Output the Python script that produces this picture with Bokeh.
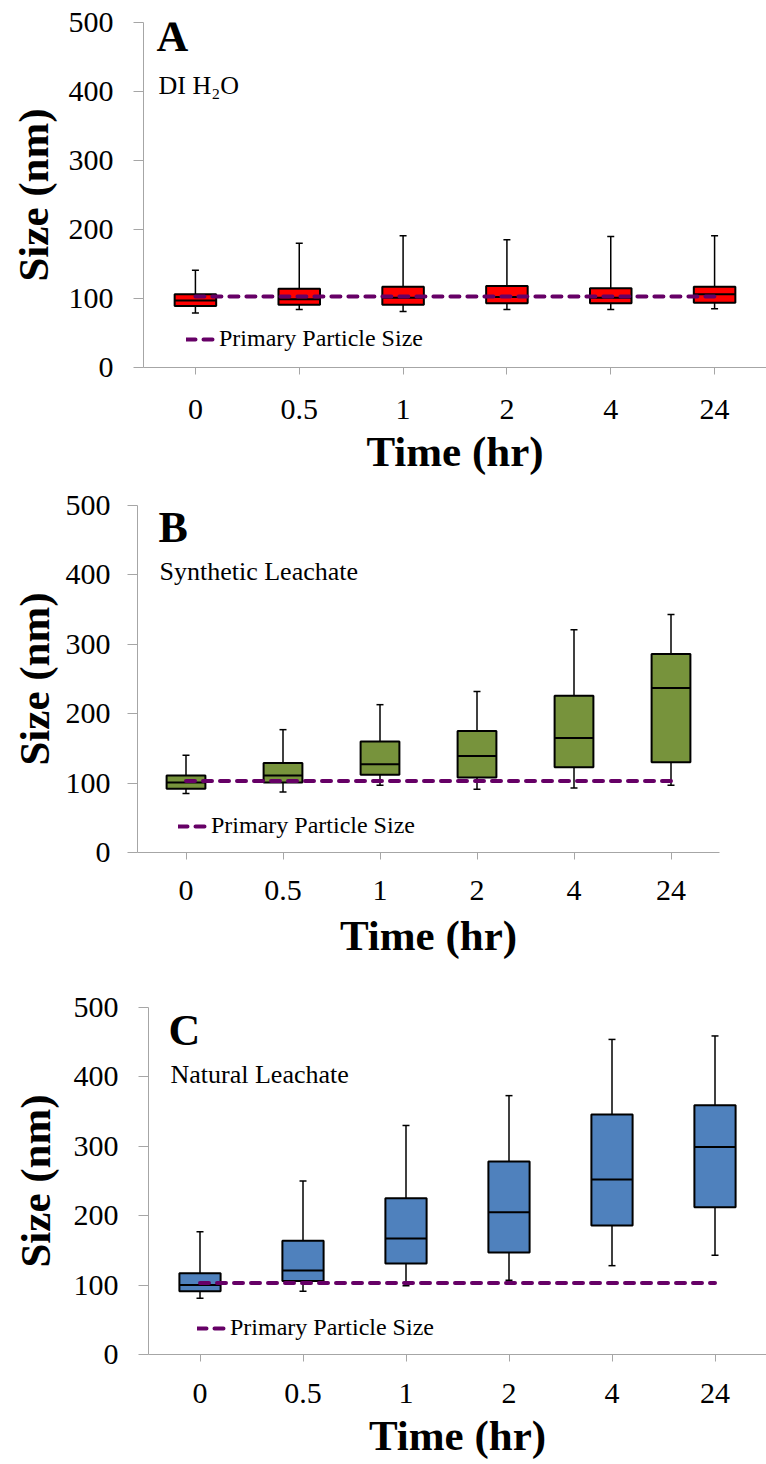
from bokeh.plotting import figure
from bokeh.models import (FactorRange, Range1d, Label, Legend, LegendItem,
                          ColumnDataSource, FixedTicker)
from bokeh.transform import dodge
from bokeh.embed import file_html
from bokeh.resources import INLINE

# ---------------- data ----------------
times = ["0", "0.5", "1", "2", "4", "24"]
y_ticks = [0, 100, 200, 300, 400, 500]
primary_size = 103

# Panel A: DI H2O
a_whisker_low = [79, 84, 81, 84, 84, 85]
a_q1 = [89, 91, 91, 93, 93, 94]
a_median = [97, 99, 101, 102, 101, 106]
a_q3 = [106, 114, 117, 118, 115, 117]
a_whisker_high = [141, 180, 191, 185, 190, 191]

# Panel B: Synthetic Leachate
b_whisker_low = [85, 87, 97, 91, 93, 97]
b_q1 = [92, 101, 112, 108, 123, 130]
b_median = [101, 111, 127, 139, 165, 237]
b_q3 = [111, 129, 160, 175, 226, 286]
b_whisker_high = [140, 177, 213, 232, 321, 343]

# Panel C: Natural Leachate
c_whisker_low = [81, 91, 99, 107, 128, 143]
c_q1 = [91, 106, 131, 147, 186, 212]
c_median = [100, 121, 167, 205, 252, 299]
c_q3 = [117, 164, 225, 278, 346, 359]
c_whisker_high = [177, 250, 330, 373, 454, 459]

x_title = "Time (hr)"
y_title = "Size (nm)"
legend_label = "Primary Particle Size"

FONT = "Liberation Serif"
AXIS_GRAY = "#a6a6a6"


def make_panel(letter, subtitle, low, q1, med, q3, high, color, g):
    p = figure(x_range=FactorRange(factors=times),
               y_range=Range1d(0, 500),
               width=766, height=g["height"],
               min_border_left=g["left"], min_border_right=g["right"],
               min_border_top=g["top"], min_border_bottom=g["bottom"],
               output_backend="svg", toolbar_location=None)
    src = ColumnDataSource(dict(time=times, low=low, q1=q1, med=med, q3=q3,
                                high=high, prim=[primary_size] * len(times)))

    # whiskers
    p.segment(x0="time", y0="q3", x1="time", y1="high", source=src,
              line_color="black", line_width=1.5)
    p.segment(x0="time", y0="q1", x1="time", y1="low", source=src,
              line_color="black", line_width=1.5)
    p.scatter(x="time", y="high", source=src, marker="dash", size=7,
              line_color="black", line_width=1.5)
    p.scatter(x="time", y="low", source=src, marker="dash", size=7,
              line_color="black", line_width=1.5)
    # boxes
    p.vbar(x="time", bottom="q1", top="q3", width=0.4, source=src,
           fill_color=color, line_color="black", line_width=2)
    # medians
    p.segment(x0=dodge("time", -0.2, range=p.x_range), y0="med",
              x1=dodge("time", 0.2, range=p.x_range), y1="med",
              source=src, line_color="black", line_width=2)
    # primary particle size
    r = p.line(x="time", y="prim", source=src, line_color="#660066",
               line_width=4, line_dash="9 8", line_cap="round")

    legend = Legend(items=[LegendItem(label=legend_label, renderers=[r])],
                    location=(g["leg_x"], g["leg_y"]),
                    border_line_color=None, background_fill_alpha=0,
                    padding=0, margin=0, spacing=0,
                    glyph_width=30, glyph_height=20, label_height=20,
                    label_standoff=3, label_text_font=FONT,
                    label_text_font_size="24px", label_text_color="black")
    p.add_layout(legend)

    p.add_layout(Label(x=g["lx"], x_units="screen", y=g["letter_y"], y_units="data",
                       text=letter, text_font=FONT, text_font_style="bold",
                       text_font_size="44px", text_color="black",
                       text_baseline="middle"))
    p.add_layout(Label(x=g["sx"], x_units="screen", y=g["sub_y"], y_units="data",
                       text=subtitle, text_font=FONT, text_font_size="26px",
                       text_color="black", text_baseline="middle"))

    # axes styling
    p.grid.visible = False
    p.outline_line_color = None
    for ax in (p.xaxis[0], p.yaxis[0]):
        ax.axis_line_color = AXIS_GRAY
        ax.axis_line_width = 1
        ax.major_tick_line_color = AXIS_GRAY
        ax.major_tick_in = 0
        ax.minor_tick_line_color = None
        ax.major_label_text_font = FONT
        ax.major_label_text_font_size = "30px"
        ax.major_label_text_color = "black"
        ax.axis_label_text_font = FONT
        ax.axis_label_text_font_style = "bold"
        ax.axis_label_text_font_size = "43px"
        ax.axis_label_text_color = "black"
    p.xaxis.axis_label = x_title
    p.yaxis.axis_label = y_title
    p.yaxis.ticker = FixedTicker(ticks=y_ticks)
    p.xaxis.major_tick_out = 7
    p.yaxis.major_tick_out = 10
    p.yaxis.major_label_standoff = g["ylab_standoff"]
    p.yaxis.axis_label_standoff = g["ytitle_standoff"]
    p.xaxis.major_label_standoff = g["xlab_standoff"]
    p.xaxis.axis_label_standoff = g["xtitle_standoff"]
    return p


pa = make_panel("A", "DI H\u2082O", a_whisker_low, a_q1, a_median, a_q3,
                a_whisker_high, "#ff0000",
                dict(height=480, left=143, right=0, top=22, bottom=113,
                     leg_x=43, leg_y=15, lx=13, sx=15, letter_y=480, sub_y=408,
                     ylab_standoff=20, ytitle_standoff=9,
                     xlab_standoff=25, xtitle_standoff=6))
pb = make_panel("B", "Synthetic Leachate", b_whisker_low, b_q1, b_median, b_q3,
                b_whisker_high, "#77933c",
                dict(height=495, left=137, right=47, top=25, bottom=123,
                     leg_x=41, leg_y=13, lx=21, sx=22, letter_y=468, sub_y=405,
                     ylab_standoff=17, ytitle_standoff=5,
                     xlab_standoff=21, xtitle_standoff=9))
pc = make_panel("C", "Natural Leachate", c_whisker_low, c_q1, c_median, c_q3,
                c_whisker_high, "#4f81bd",
                dict(height=489, left=148, right=0, top=32, bottom=110,
                     leg_x=49, leg_y=13, lx=20, sx=22, letter_y=467, sub_y=403,
                     ylab_standoff=20, ytitle_standoff=12,
                     xlab_standoff=22, xtitle_standoff=6))

open("out.html", "w").write(file_html([pa, pb, pc], INLINE))
